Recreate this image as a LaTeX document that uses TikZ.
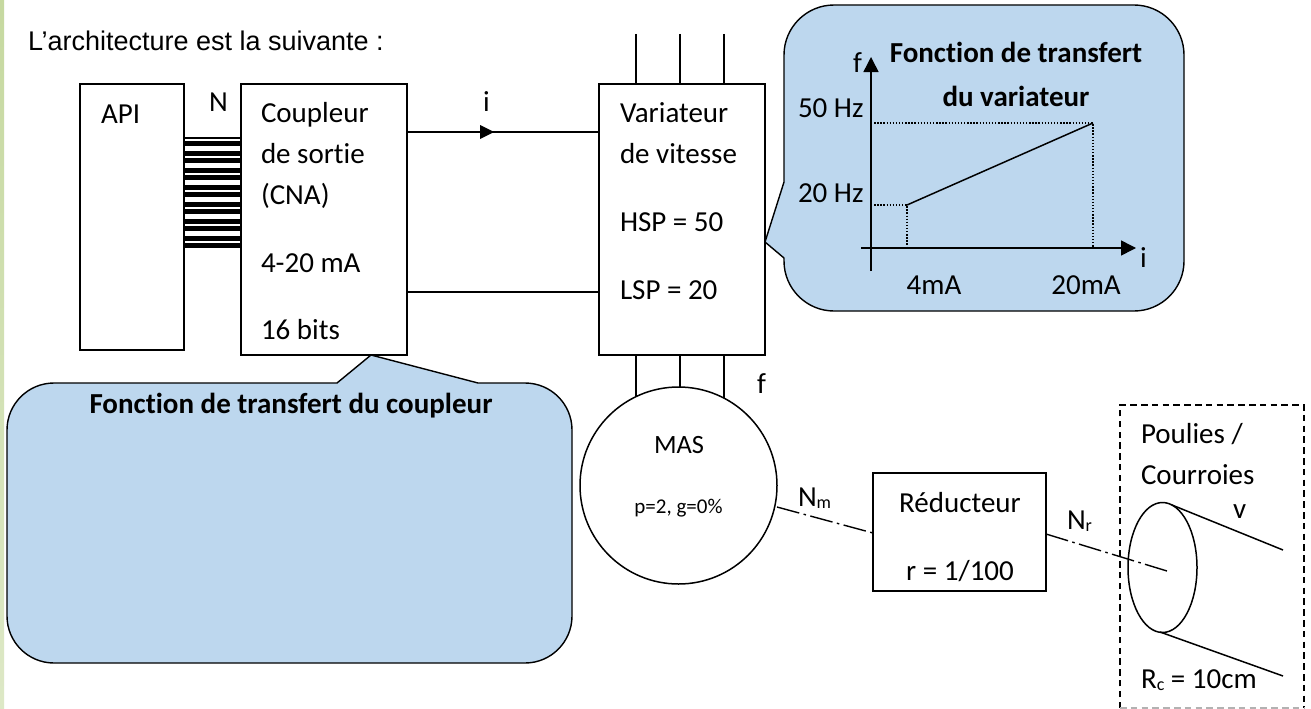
\documentclass[tikz,border=0pt]{standalone}
\usepackage{fontspec}
\setmainfont[Ligatures=NoCommon]{Carlito}
\newfontfamily\arialf{Liberation Sans}
\usetikzlibrary{arrows.meta,shapes.geometric}
\definecolor{callblue}{HTML}{BDD7EE}
\definecolor{striptop}{HTML}{C6D9A0}
\definecolor{stripbot}{HTML}{DDE8C6}
\newcommand{\lowsub}[1]{\raisebox{-2.5pt}{\fontsize{18}{18}\selectfont #1}}
\tikzset{
  x=1pt,y=-1pt,
  every node/.style={inner sep=0pt,outer sep=0pt,font=\fontsize{29}{29}\selectfont},
  lbl/.style={anchor=base west},
  ctr/.style={anchor=base},
  boxs/.style={draw=black,line width=1.5pt},
  wire/.style={draw=black,line width=1.5pt},
  callout/.style={draw=black,fill=callblue,line width=1.4pt,line join=round},
  dotl/.style={draw=black,line width=1.3pt,dash pattern=on 1.4pt off 1.7pt},
  dashdotl/.style={draw=black,line width=1.4pt,dash pattern=on 23pt off 4.5pt on 2.5pt off 4.5pt},
  dashb/.style={draw=black,line width=1.4pt,dash pattern=on 6.5pt off 4.3pt},
  arr/.style={-{Triangle[length=15pt,width=15pt]}},
}
\begin{document}
\begin{tikzpicture}
\useasboundingbox (0,0) rectangle (1311,709);
\fill[white] (0,0) rectangle (1311,709);
\shade[top color=striptop,bottom color=stripbot] (0,0) rectangle (4,709);
\node[lbl,font=\arialf\fontsize{27}{27}\selectfont] (title) at (28,51) {L’architecture est la suivante :};

% callouts
\filldraw[callout] (784,55) arc[start angle=180,end angle=90,x radius=50,y radius=-50]
 -- (1134,5) arc[start angle=90,end angle=0,x radius=50,y radius=-50]
 -- (1184,261) arc[start angle=0,end angle=-90,x radius=50,y radius=-50]
 -- (834,311) arc[start angle=-90,end angle=-180,x radius=50,y radius=-50]
 -- (784,258) -- (765,242) -- (784,182) -- cycle;
\filldraw[callout] (7,430) arc[start angle=180,end angle=90,x radius=47,y radius=-47]
 -- (337,383) -- (371,355) -- (478,383) -- (525,383)
 arc[start angle=90,end angle=0,x radius=47,y radius=-47]
 -- (572,616) arc[start angle=0,end angle=-90,x radius=47,y radius=-47]
 -- (54,663) arc[start angle=-90,end angle=-180,x radius=47,y radius=-47] -- cycle;

% boxes
\node[boxs,minimum width=104pt,minimum height=266pt] (api) at (132,217) {};
\node[boxs,minimum width=166pt,minimum height=271pt] (coupleur) at (324,219.5) {};
\node[boxs,minimum width=166pt,minimum height=271pt] (variateur) at (682,219.5) {};
\node[boxs,minimum width=173pt,minimum height=118pt] (reducteur) at (959.5,532) {};

% bus
\fill[black] (184.5,137.3) rectangle (240.5,248);
\foreach \k in {0,...,5}{\fill[white] (185,145.7+17*\k) rectangle (240,151+17*\k);}
\foreach \k in {0,...,6}{\fill[white] (185,139+17*\k) rectangle (240,140.8+17*\k);}

% wires
\coordinate (wA) at (coupleur.east |- 0,132);
\coordinate (wB) at (variateur.west |- 0,132);
\coordinate (wC) at (coupleur.east |- 0,292);
\coordinate (wD) at (variateur.west |- 0,292);
\draw[wire] (wA) -- (wB);
\draw[wire] (wC) -- (wD);
\fill[black] (480,125) -- (494,132) -- (480,139) -- cycle;
\foreach \xx in {636,680,724}{
  \coordinate (top\xx) at (\xx,34);
  \draw[wire] (top\xx) -- (\xx,84);
  \draw[wire] (\xx,355) -- (\xx,400);
}
\node[draw=black,fill=white,line width=1.5pt,circle,minimum size=197pt] (mas) at (678.5,485.5) {};

% text
\node[lbl] (tapi) at (101,123) {API};
\node[lbl] (tn) at (209,111) {N};
\node[lbl] (tc1) at (261,122) {Coupleur};
\node[lbl] (tc2) at (261,163) {de sortie};
\node[lbl] (tc3) at (261,204) {(CNA)};
\node[lbl] (tc4) at (261,272) {4-20 mA};
\node[lbl] (tc5) at (261,339) {16 bits};
\node[lbl] (ti) at (483,111) {i};
\node[lbl] (tv1) at (620,122) {Variateur};
\node[lbl] (tv2) at (620,163) {de vitesse};
\node[lbl] (tv3) at (620,231) {HSP = 50};
\node[lbl] (tv4) at (620,299) {LSP = 20};
\node[lbl] (tf) at (757,393) {f};
\node[ctr,font=\fontsize{26.4}{26.4}\selectfont] (tmas) at (679,453) {MAS};
\node[ctr,font=\fontsize{21}{21}\selectfont] (tpg) at (678.5,513) {p=2, g=0\%};
\node[ctr,font=\bfseries\fontsize{29}{29}\selectfont] (tfc) at (291,413) {Fonction de transfert du coupleur};

% graph
\node[lbl] (gf) at (853,72) {f};
\node[ctr,font=\bfseries\fontsize{29}{29}\selectfont] (g1) at (1016,63) {Fonction de transfert};
\node[ctr,font=\bfseries\fontsize{29}{29}\selectfont] (g2) at (1016,106) {du variateur};
\node[lbl] (g50) at (798,117) {50 Hz};
\node[lbl] (g20) at (798,202) {20 Hz};
\node[ctr] (g4) at (934,294) {4mA};
\node[ctr] (g20m) at (1086,294) {20mA};
\node[lbl] (gi) at (1140,267) {i};
\coordinate (o1) at (871,271);
\coordinate (o2) at (871,57);
\coordinate (h1) at (861,248);
\coordinate (h2) at (1136,248);
\draw[wire,arr] (o1) -- (o2);
\draw[wire,arr] (h1) -- (h2);
\coordinate (p1) at (907,205);
\coordinate (p2) at (1093,123);
\draw[wire] (p1) -- (p2);
\draw[dotl] (871,123) -- (p2) -- (1093,248);
\draw[dotl] (871,205) -- (p1) -- (907,248);

% output
\node[ctr] (tr1) at (960,512) {Réducteur};
\node[ctr] (tr2) at (960,580) {r = 1/100};
\node[lbl] (tnm) at (798,506) {N\lowsub{m}};
\node[lbl] (tnr) at (1067,529) {N\lowsub{r}};
\coordinate (m1) at (777,507);
\coordinate (m2) at (873,533);
\coordinate (r1) at (1046,534);
\coordinate (r2) at (1167,571);
\draw[dashdotl] (m1) -- (m2);
\draw[dashdotl] (r1) -- (r2);

\node[draw=black,line width=1.5pt,ellipse,minimum width=69pt,minimum height=130pt] (poulie) at (1162.5,567.5) {};
\coordinate (c1) at (1172,505);
\coordinate (c2) at (1283,550);
\coordinate (c3) at (1160,632);
\coordinate (c4) at (1283,676);
\draw[wire] (c1) -- (c2);
\draw[wire] (c3) -- (c4);
\draw[dashb] (1120,708) -- (1120,405) -- (1304,405) -- (1304,708);
\draw[dashb,draw=gray!60] (1120,708) -- (1304,708);
\node[lbl] (tp1) at (1141,443) {Poulies /};
\node[lbl] (tp2) at (1141,484) {Courroies};
\node[lbl] (tvv) at (1233,518) {v};
\node[lbl] (trc) at (1141,688) {R\lowsub{c} = 10cm};
\end{tikzpicture}
\end{document}
